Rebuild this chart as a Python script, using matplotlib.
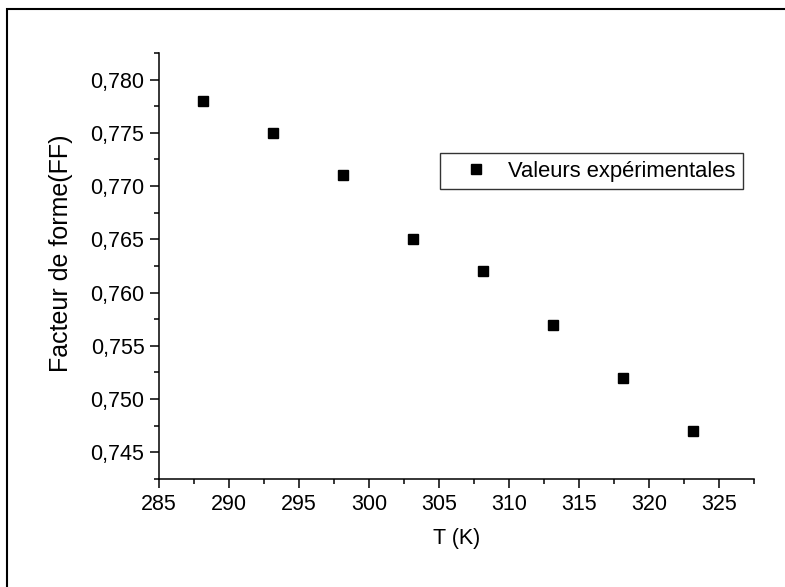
import matplotlib
matplotlib.use("Agg")
import matplotlib.pyplot as plt
from matplotlib.ticker import MultipleLocator, FuncFormatter
from matplotlib.patches import Rectangle

temperature_K = [288.15, 293.15, 298.15, 303.15, 308.15, 313.15, 318.15, 323.15]
fill_factor = [0.778, 0.775, 0.771, 0.765, 0.762, 0.757, 0.752, 0.747]
series_label = "Valeurs expérimentales"
x_label = "T (K)"
y_label = "Facteur de forme(FF)"

plt.rcParams['font.family'] = ['Liberation Sans', 'DejaVu Sans']

fig = plt.figure(figsize=(7.85, 5.87), dpi=100)
ax = fig.add_axes([159/785, 1-479/587, (754-159)/785, (479-53)/587])

ax.plot(temperature_K, fill_factor, linestyle='none', marker='s', ms=7,
        color='black', label=series_label)

ax.set_xlim(285, 327.5)
ax.set_ylim(0.7425, 0.7825)
ax.xaxis.set_major_locator(MultipleLocator(5))
ax.xaxis.set_minor_locator(MultipleLocator(2.5))
ax.yaxis.set_major_locator(MultipleLocator(0.005))
ax.yaxis.set_minor_locator(MultipleLocator(0.0025))
ax.yaxis.set_major_formatter(FuncFormatter(lambda v, p: f"{v:.3f}".replace('.', ',')))

for s in ['top', 'right']:
    ax.spines[s].set_visible(False)
for s in ['left', 'bottom']:
    ax.spines[s].set_linewidth(1.1)
ax.tick_params(which='major', direction='out', length=6.5, width=1.1, labelsize=15.5, pad=4)
ax.tick_params(which='minor', direction='out', length=3.6, width=1.1)

ax.set_xlabel(x_label, fontsize=15.5, labelpad=10)
ax.set_ylabel(y_label, fontsize=18, labelpad=10)
ax.yaxis.set_label_coords(-0.145, 0.53)

leg = ax.legend(loc='upper left', bbox_to_anchor=((440-159)/595, (479-153)/426),
                frameon=True, fancybox=False, edgecolor='black', fontsize=15.8,
                handlelength=2.6, handletextpad=0.15, borderpad=0.35, borderaxespad=0,
                markerscale=1.0)
leg.get_frame().set_linewidth(1.0)

fig.patches.append(Rectangle((7/785, -0.1), 1.2, 1 - 9/587 + 0.1,
                             transform=fig.transFigure, fill=False,
                             edgecolor='black', linewidth=1.5))

fig.savefig("out.png", dpi=100)
